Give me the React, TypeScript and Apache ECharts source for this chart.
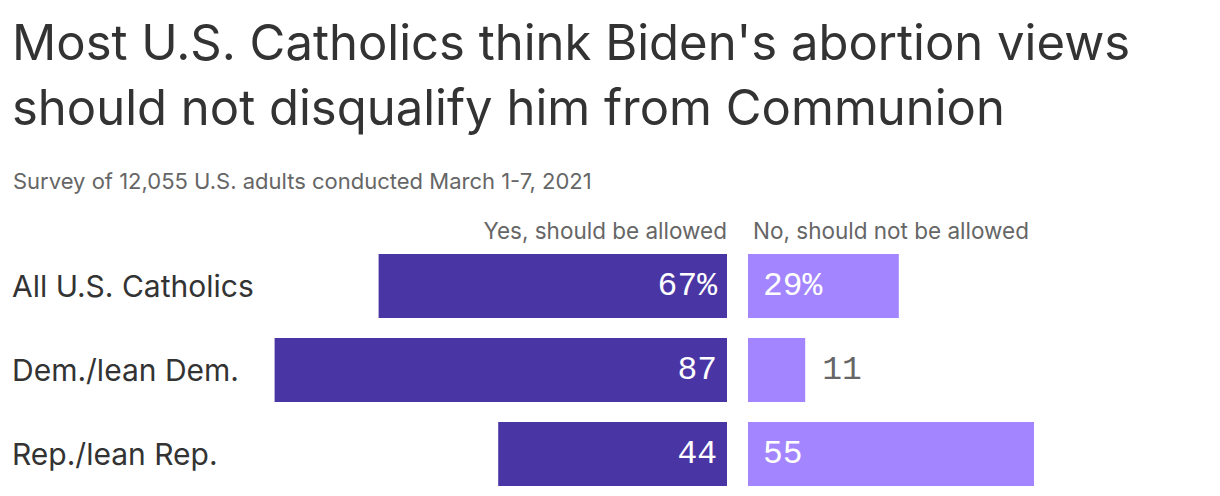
import React, { useEffect, useRef } from "react";
import * as echarts from "echarts";

const titleLines = ["Most U.S. Catholics think Biden's abortion views", "should not disqualify him from Communion"];
const subtitle = "Survey of 12,055 U.S. adults conducted March 1-7, 2021";
const categories = ["All U.S. Catholics", "Dem./lean Dem.", "Rep./lean Rep."];
const seriesNames = ["Yes, should be allowed", "No, should not be allowed"];
const yesValues = [67, 87, 44];
const noValues = [29, 11, 55];

const DARK = "#4a35a5";
const LIGHT = "#a385ff";
const MONO = "'Liberation Mono', 'DejaVu Sans Mono', monospace";
const SANS = "Inter, 'Noto Sans', sans-serif";

const fmt = (p: any) => (p.dataIndex === 0 ? p.value + "%" : String(p.value));

export default function App() {
  const ref = useRef<HTMLDivElement>(null);
  useEffect(() => {
    if (!ref.current) return;
    const chart = echarts.init(ref.current, null, { renderer: "svg" });
    chart.setOption({
      animation: false,
      backgroundColor: "#ffffff",
      title: [
        {
          text: titleLines.join("\n"),
          left: 7,
          top: 5,
          textStyle: { fontFamily: SANS, fontSize: 49, fontWeight: 400, color: "#333333", lineHeight: 65 },
        },
        {
          text: subtitle,
          left: 8,
          top: 165,
          textStyle: { fontFamily: SANS, fontSize: 22, fontWeight: 400, color: "#666666" },
        },
      ],
      graphic: [
        {
          type: "text",
          x: 727,
          y: 230,
          style: { text: seriesNames[0], align: "right", verticalAlign: "middle", fontFamily: SANS, fontSize: 22.5, fill: "#666666" },
        },
        {
          type: "text",
          x: 753,
          y: 230,
          style: { text: seriesNames[1], align: "left", verticalAlign: "middle", fontFamily: SANS, fontSize: 22.5, fill: "#666666" },
        },
      ],
      grid: [
        { left: 259, width: 468, top: 244, height: 252 },
        { left: 748, width: 468, top: 244, height: 252 },
      ],
      xAxis: [
        { gridIndex: 0, type: "value", min: 0, max: 90, inverse: true, show: false },
        { gridIndex: 1, type: "value", min: 0, max: 90, show: false },
      ],
      yAxis: [
        {
          gridIndex: 0,
          type: "category",
          data: categories,
          inverse: true,
          position: "left",
          axisLine: { show: false, onZero: false },
          axisTick: { show: false },
          splitLine: { show: false },
          axisLabel: { margin: 247, align: "left", fontFamily: SANS, fontSize: 30, color: "#333333" },
        },
        {
          gridIndex: 1,
          type: "category",
          data: categories,
          inverse: true,
          show: false,
        },
      ],
      series: [
        {
          name: seriesNames[0],
          type: "bar",
          xAxisIndex: 0,
          yAxisIndex: 0,
          barWidth: 64,
          itemStyle: { color: DARK },
          label: {
            show: true,
            position: "insideRight",
            distance: 10,
            color: "#ffffff",
            fontFamily: MONO,
            fontSize: 33,
            formatter: fmt,
          },
          data: yesValues,
        },
        {
          name: seriesNames[1],
          type: "bar",
          xAxisIndex: 1,
          yAxisIndex: 1,
          barWidth: 64,
          itemStyle: { color: LIGHT },
          label: {
            show: true,
            position: "insideLeft",
            distance: 15,
            color: "#ffffff",
            fontFamily: MONO,
            fontSize: 33,
            formatter: fmt,
          },
          data: noValues.map((v) =>
            v < 15
              ? { value: v, label: { position: "right", distance: 17, color: "#666666" } }
              : { value: v }
          ),
        },
      ],
    });
    return () => chart.dispose();
  }, []);
  return <div ref={ref} style={{ position: "fixed", left: 0, top: 0, width: 1220, height: 496 }} />;
}
